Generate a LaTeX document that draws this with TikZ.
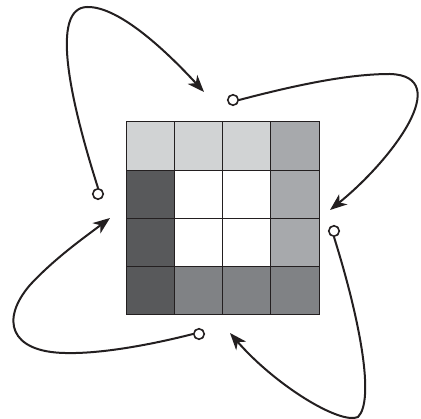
\documentclass[tikz,border=0pt]{standalone}
\usetikzlibrary{arrows.meta}
\definecolor{cL}{HTML}{D1D3D4}
\definecolor{cM}{HTML}{A7A9AC}
\definecolor{cD}{HTML}{58595B}
\definecolor{cG}{HTML}{808285}
\definecolor{cW}{HTML}{FFFFFF}
\definecolor{ink}{HTML}{231F20}
\tikzset{
  cell/.style={draw=ink, line width=1pt, inner sep=0pt, outer sep=0pt, minimum size=48.25pt, fill=#1},
  port/.style={circle, draw=ink, fill=white, line width=1.6pt, inner sep=0pt, minimum size=10.5pt},
  flow/.style={draw=ink, line width=2pt, -{Stealth[length=17pt, width=13pt, inset=5pt]}},
}
\begin{document}
\begin{tikzpicture}[x=1pt,y=-1pt]
\useasboundingbox (0,0) rectangle (421,419);
% grid
\foreach \r/\row in {0/{cL,cL,cL,cM},1/{cD,cW,cW,cM},2/{cD,cW,cW,cM},3/{cD,cG,cG,cG}}{
  \foreach \c [count=\k from 0] in \row {
    \node[cell=\c] (g\r\k) at ({126+48.25*(\k+0.5)},{122+48.25*(\r+0.5)}) {};
  }
}
% ports
\node[port] (pL) at (98,194) {};
\node[port] (pT) at (233,100) {};
\node[port] (pR) at (334,231) {};
\node[port] (pB) at (199,334) {};
% arrow tips
\coordinate (aT) at (204,92);
\coordinate (aR) at (330,210);
\coordinate (aB) at (230,333);
\coordinate (aL) at (110,218);
% connectors
\draw[flow] (pL.north) .. controls (70,100) and (50,8) .. (87,7) .. controls (120,6) and (170,55) .. (aT);
\draw[flow] (pT.east) .. controls (300,84) and (350,74) .. (390,74) .. controls (455,76) and (392,160) .. (aR);
\draw[flow] (pR.south) .. controls (360,320) and (375,400) .. (358,417) .. controls (340,425) and (275,385) .. (aB);
\draw[flow] (pB.west) .. controls (150,345) and (100,354) .. (65,353) .. controls (10,352) and (0,320) .. (30,285) .. controls (55,258) and (85,237) .. (aL);
\end{tikzpicture}
\end{document}
